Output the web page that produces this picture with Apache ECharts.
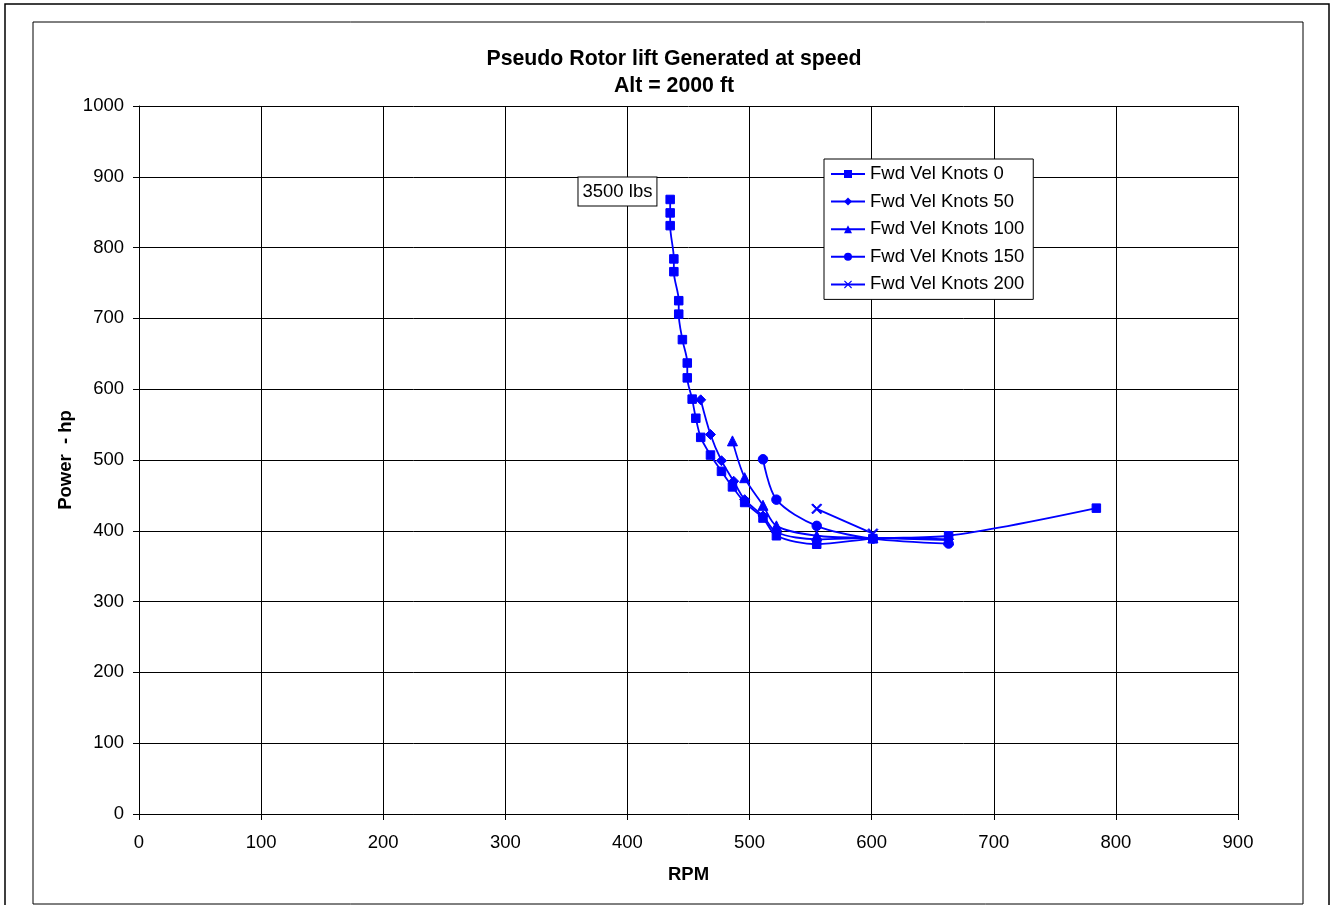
<!DOCTYPE html>
<html>
<head>
<meta charset="utf-8">
<style>
  html, body { margin: 0; padding: 0; background: #fff; }
  #chart { width: 1330px; height: 905px; }
</style>
<script src="https://cdn.jsdelivr.net/npm/echarts@6/dist/echarts.min.js"></script>
</head>
<body>
<div id="chart"></div>
<script>
// Rotor power vs RPM at 2000 ft, one curve per forward speed
const seriesNames = ['Fwd Vel Knots 0', 'Fwd Vel Knots 50', 'Fwd Vel Knots 100', 'Fwd Vel Knots 150', 'Fwd Vel Knots 200'];

const rpm0   = [435, 435, 435, 438, 438, 442, 442, 445, 449, 449, 453, 456, 460, 468, 477, 486, 496, 511, 522, 555, 601, 663, 784];
const power0 = [868, 849, 831, 784, 766, 725, 706, 670, 637, 616, 586, 559, 532, 507, 484, 462, 440, 418, 393, 381, 389, 393, 432];

const rpm50   = [460, 468, 477, 487, 496, 511, 522, 555, 601, 663];
const power50 = [585, 536, 499, 470, 444, 421, 398, 388, 390, 388];

const rpm100   = [486, 496, 511, 522, 555, 601, 663];
const power100 = [527, 475, 436, 407, 393, 390, 387];

const rpm150   = [511, 522, 555, 601, 663];
const power150 = [501, 444, 407, 389, 382];

const rpm200   = [555, 601];
const power200 = [431, 396];

const xTicks = { min: 0, max: 900, interval: 100 };
const yTicks = { min: 0, max: 1000, interval: 100 };

const weightLabel = '3500 lbs';

const BLUE = '#0000ff';
const FONT = '"Liberation Sans", Arial, sans-serif';
const FS = 18.5;
const CROSS = 'path://M0,1L1,0L5,4L9,0L10,1L6,5L10,9L9,10L5,6L1,10L0,9L4,5Z';

function pairs(xs, ys) { return xs.map((x, i) => [x, ys[i]]); }

const curves = [
  { x: rpm0,   y: power0,   symbol: 'rect',     size: 8.5 },
  { x: rpm50,  y: power50,  symbol: 'diamond',  size: 10 },
  { x: rpm100, y: power100, symbol: 'triangle', size: 10 },
  { x: rpm150, y: power150, symbol: 'circle',   size: 9.5 },
  { x: rpm200, y: power200, symbol: CROSS,      size: 10 }
];

const series = curves.map((c, idx) => {
  const data = pairs(c.x, c.y);
  if (idx === 0) {
    data[0] = {
      value: data[0],
      label: {
        show: true,
        formatter: weightLabel,
        position: 'left',
        distance: 9,
        offset: [0, -8],
        color: '#000',
        fontFamily: FONT,
        fontSize: FS,
        lineHeight: 20,
        backgroundColor: '#fff',
        borderColor: '#000',
        borderWidth: 1,
        padding: [5, 4, 3, 4]
      }
    };
  }
  return {
    name: seriesNames[idx],
    type: 'line',
    data: data,
    smooth: 0.3,
    symbol: c.symbol,
    symbolSize: c.size,
    showAllSymbol: true,
    lineStyle: { color: BLUE, width: 1.8 },
    itemStyle: { color: BLUE, borderColor: BLUE },
    emphasis: { disabled: true },
    z: 10 - idx
  };
});

const chart = echarts.init(document.getElementById('chart'), null, { renderer: 'canvas' });

chart.setOption({
  backgroundColor: '#fff',
  animation: false,
  title: {
    text: 'Pseudo Rotor lift Generated at speed\nAlt = 2000 ft',
    left: 669,
    top: 41,
    textAlign: 'center',
    textStyle: {
      fontFamily: FONT,
      fontSize: 21.3,
      fontWeight: 'bold',
      color: '#000',
      lineHeight: 27
    }
  },
  graphic: [
    { type: 'rect', shape: { x: 5, y: 4, width: 1324, height: 910 }, style: { fill: 'none', stroke: '#000', lineWidth: 1.5 }, silent: true },
    { type: 'rect', shape: { x: 33, y: 22, width: 1270, height: 882 }, style: { fill: 'none', stroke: '#000', lineWidth: 1 }, silent: true }
  ],
  legend: {
    orient: 'vertical',
    left: 824,
    top: 159,
    data: seriesNames,
    itemWidth: 34,
    itemHeight: 10,
    itemGap: 7.6,
    padding: [5, 9, 5, 6],
    backgroundColor: '#fff',
    borderColor: '#000',
    borderWidth: 1,
    borderRadius: 0,
    selectedMode: false,
    textStyle: { fontFamily: FONT, fontSize: FS, lineHeight: 20, color: '#000' }
  },
  grid: { left: 139, right: 92, top: 106, bottom: 91, containLabel: false },
  xAxis: {
    type: 'value',
    min: xTicks.min,
    max: xTicks.max,
    interval: xTicks.interval,
    name: 'RPM',
    nameLocation: 'middle',
    nameGap: 51,
    nameMoveOverlap: false,
    nameTextStyle: { fontFamily: FONT, fontSize: FS, fontWeight: 'bold', color: '#000' },
    axisLine: { show: true, onZero: false, lineStyle: { color: '#000', width: 1 } },
    axisTick: { show: true, inside: false, length: 6, lineStyle: { color: '#000' } },
    axisLabel: { margin: 19, fontFamily: FONT, fontSize: FS, color: '#000', formatter: v => String(v) },
    splitLine: { show: true, lineStyle: { color: '#000', width: 1 } }
  },
  yAxis: {
    type: 'value',
    min: yTicks.min,
    max: yTicks.max,
    interval: yTicks.interval,
    name: 'Power  - hp',
    nameLocation: 'middle',
    nameGap: 64,
    nameMoveOverlap: false,
    nameTextStyle: { fontFamily: FONT, fontSize: FS, fontWeight: 'bold', color: '#000' },
    axisLine: { show: true, onZero: false, lineStyle: { color: '#000', width: 1 } },
    axisTick: { show: true, inside: false, length: 6, lineStyle: { color: '#000' } },
    axisLabel: { margin: 15, fontFamily: FONT, fontSize: FS, color: '#000', formatter: v => String(v) },
    splitLine: { show: true, lineStyle: { color: '#000', width: 1 } }
  },
  series: series
});
</script>
</body>
</html>
